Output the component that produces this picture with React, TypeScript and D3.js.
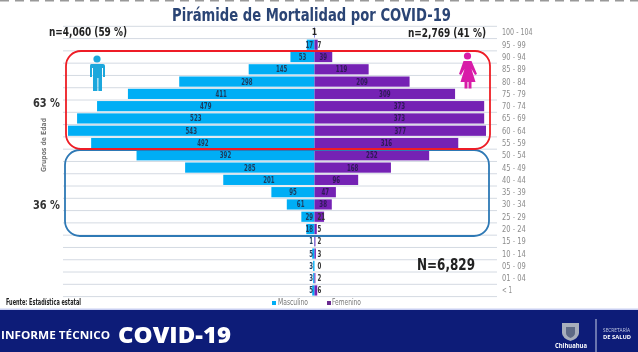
import React from "react";
import * as d3 from "d3";

const ageGroups = ["100 - 104","95 - 99","90 - 94","85 - 89","80 - 84","75 - 79","70 - 74","65 - 69","60 - 64","55 - 59","50 - 54","45 - 49","40 - 44","35 - 39","30 - 34","25 - 29","20 - 24","15 - 19","10 - 14","05 - 09","01 - 04","< 1"];
const male = [1,17,53,145,298,411,479,523,543,492,392,285,201,95,61,29,18,1,5,3,3,5];
const female = [1,7,39,119,209,309,373,373,377,316,252,168,96,47,38,21,5,2,3,0,2,6];

const W = 638, H = 352;
const cx = 314.5;
const top = 26.3, bottom = 296.6;
const y = d3.scaleBand<string>().domain(ageGroups).range([top, bottom]).paddingInner(0.17).paddingOuter(0.085);
const xM = d3.scaleLinear().domain([0, 543]).range([cx, 68]);
const xF = d3.scaleLinear().domain([0, 377]).range([cx, 486]);
const gridYs = d3.range(ageGroups.length + 1).map((i) => top + i * ((bottom - top) / ageGroups.length));

const cond = "'DejaVu Sans Condensed','DejaVu Sans',sans-serif";
const wide = "'Open Sans',sans-serif";
const MALE = "#00aef5", FEMALE = "#7420b4";

// Condensed look: the text is squeezed to the width it has in the picture.
const Label = ({ w, ...p }: any) => <text fontFamily={cond} textLength={w} lengthAdjust="spacingAndGlyphs" {...p} />;

export default function App() {
  return (
    <svg width={W} height={H} viewBox={`0 0 ${W} ${H}`} style={{ position: "absolute", left: 0, top: 0, background: "#fff" }}>
      <defs>
        <filter id="soft" x="-2%" y="-2%" width="104%" height="104%"><feGaussianBlur stdDeviation="0.4" /></filter>
      </defs>
      <g filter="url(#soft)">
        <line x1={0} x2={W} y1={0.5} y2={0.5} stroke="#999" strokeWidth={2} strokeDasharray="9 6" />
        <Label x={172} y={21} w={279} fontSize={17} fontWeight={700} fill="#2c4474">Pirámide de Mortalidad por COVID-19</Label>

        {gridYs.map((g) => <line key={g} x1={63} x2={497} y1={g} y2={g} stroke="#d4dae2" strokeWidth={1} />)}

        {ageGroups.map((a, i) => (
          <g key={a}>
            {male[i] > 0 && <rect x={xM(male[i])} y={y(a)} width={cx - xM(male[i])} height={y.bandwidth()} fill={MALE} />}
            {female[i] > 0 && <rect x={cx} y={y(a)} width={xF(female[i]) - cx} height={y.bandwidth()} fill={FEMALE} />}
            <Label x={502} y={y(a)! + y.bandwidth() / 2 + 3} w={a.length * 3.4} fontSize={8.5} fill="#8c8c8c">{a}</Label>
          </g>
        ))}

        {ageGroups.map((a, i) => {
          const mWide = male[i] >= 50;
          const mx = mWide ? (xM(male[i]) + cx) / 2 : cx - 1.5;
          const fWide = female[i] >= 30;
          const fx = fWide ? (xF(female[i]) + cx) / 2 : cx + 3;
          const ty = y(a)! + y.bandwidth() / 2 + 3;
          if (i === 0) return <Label key={a} x={cx} y={ty} textAnchor="middle" fontSize={8.5} fontWeight={700} fill="#222">1</Label>;
          return (
            <g key={a}>
              <Label x={mx} y={ty} w={String(male[i]).length * 3.8} textAnchor={mWide ? "middle" : "end"} fontSize={8.5} fontWeight={700} fill="#1d3a5c">{male[i]}</Label>
              <Label x={fx} y={ty} w={String(female[i]).length * 3.8} textAnchor={fWide ? "middle" : "start"} fontSize={8.5} fontWeight={700} fill={fWide ? "#2d1a55" : "#333"}>{female[i]}</Label>
            </g>
          );
        })}

        <rect x={65} y={150} width={424} height={86} rx={15} fill="none" stroke="#2f79b5" strokeWidth={1.8} />
        <rect x={66} y={51} width={424} height={98} rx={15} fill="none" stroke="#ee1c25" strokeWidth={1.8} />

        <Label x={49} y={36} w={78} fontSize={11.5} fontWeight={700} fill="#222">n=4,060 (59 %)</Label>
        <Label x={408} y={37} w={78} fontSize={11.5} fontWeight={700} fill="#222">n=2,769 (41 %)</Label>
        <Label x={33} y={107} w={27} fontSize={12} fontWeight={700} fill="#333">63 %</Label>
        <Label x={33} y={209} w={27} fontSize={12} fontWeight={700} fill="#333">36 %</Label>
        <Label transform="translate(46,172) rotate(-90)" w={54} fontSize={7} fontWeight={700} fill="#777">Grupos de Edad</Label>
        <Label x={417} y={270} w={58} fontSize={15} fontWeight={700} fill="#222">N=6,829</Label>

        {/* male icon */}
        <g fill="#1aa7dc">
          <circle cx={97} cy={59} r={3.6} />
          <path d="M91 64h12q2 0 2 2v11h-2v-9h-1v23h-3.6v-13h-1v13H93V68h-1v9h-2V66q0-2 1-2z" />
        </g>
        {/* female icon */}
        <g fill="#d81fa8">
          <circle cx={467.5} cy={56} r={3.6} />
          <path d="M463.5 61h8l5.500 13-2 1-3.500-6 4 13h-4v6.500h-3V82h-1v6.500h-3V82h-4l4-13-3.500 6-2-1z" />
        </g>

        <Label x={6} y={305} w={75} fontSize={8} fontWeight={700} fill="#222">Fuente: Estadística estatal</Label>
        <rect x={272} y={301} width={4} height={4} fill={MALE} />
        <Label x={278} y={305} w={30} fontSize={8} fill="#777">Masculino</Label>
        <rect x={327} y={301} width={4} height={4} fill="#6a2a90" />
        <Label x={332} y={305} w={29} fontSize={8} fill="#777">Femenino</Label>

        <rect x={0} y={310} width={W} height={42} fill="#0a1a78" />
        <rect x={0} y={308.5} width={W} height={1.5} fill="#c9cff2" />
        <text x={1} y={339} fontFamily={wide} fontSize={10} fontWeight={700} fill="#fff" textLength={109} lengthAdjust="spacingAndGlyphs">INFORME TÉCNICO</text>
        <text x={118} y={343} fontFamily={wide} fontSize={22} fontWeight={800} fill="#fff" textLength={113} lengthAdjust="spacingAndGlyphs">COVID-19</text>
        <path d="M562 323h17v10q0 5-8.500 8-8.500-3-8.500-8z" fill="#a8aebc" />
        <path d="M566 327h9v6q0 3-4.500 5-4.500-2-4.500-5z" fill="#5f6a86" />
        <text x={555} y={348} fontFamily={wide} fontSize={6.5} fontWeight={700} fill="#fff" textLength={32} lengthAdjust="spacingAndGlyphs">Chihuahua</text>
        <line x1={596} x2={596} y1={319} y2={352} stroke="#c9cfe6" strokeWidth={1} />
        <text x={603} y={332} fontFamily={wide} fontSize={4.5} fill="#c9cfe6" textLength={27} lengthAdjust="spacingAndGlyphs">SECRETARÍA</text>
        <text x={603} y={339} fontFamily={wide} fontSize={5} fontWeight={700} fill="#fff" textLength={28} lengthAdjust="spacingAndGlyphs">DE SALUD</text>
      </g>
    </svg>
  );
}
